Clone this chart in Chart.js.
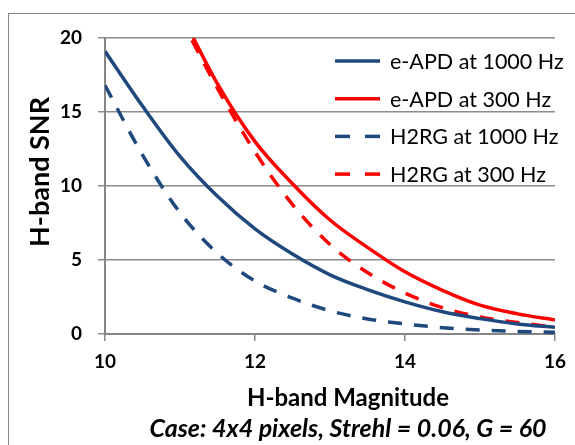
<!DOCTYPE html>
<html>
<head>
<meta charset="utf-8">
<script src="https://cdn.jsdelivr.net/npm/chart.js@4"></script>
<style>
    html, body { margin: 0; padding: 0; background: #fff; overflow: hidden; }
    #wrap { position: relative; width: 575px; height: 445px; }
    #frame { position: absolute; left: 8px; top: 13px; width: 700px; height: 600px; border: 1px solid #868686; }
    canvas { position: absolute; left: 0; top: 0; }
</style>
</head>
<body>
<div id="wrap">
    <div id="frame"></div>
    <canvas id="chart" width="575" height="445"></canvas>
</div>
<script>
// H-band magnitude (x) and SNR values
const magnitudes = [10, 10.5, 11, 11.5, 12, 12.5, 13, 13.5, 14, 14.5, 15, 15.5, 16];
const eApd1000 = [19.1, 15.4, 12.0, 9.3, 7.1, 5.4, 4.0, 3.0, 2.17, 1.5, 1.04, 0.68, 0.45];
const eApd300 = [null, null, 21.8, 16.9, 13.0, 10.15, 7.7, 5.85, 4.2, 2.95, 1.95, 1.36, 0.95];
const h2rg1000 = [16.8, 12.1, 8.2, 5.45, 3.58, 2.42, 1.57, 1.02, 0.68, 0.43, 0.27, 0.17, 0.11];
const h2rg300 = [null, null, 21.4, 16.6, 12.3, 8.75, 6.05, 4.15, 2.77, 1.78, 1.15, 0.78, 0.45];

const seriesLabels = ['e-APD at 1000 Hz', 'e-APD at 300 Hz', 'H2RG at 1000 Hz', 'H2RG at 300 Hz'];
const xTicks = [10, 12, 14, 16];
const yTicks = [0, 5, 10, 15, 20];

const xTitle = 'H-band Magnitude';
const yTitle = 'H-band SNR';
const caption = 'Case: 4x4 pixels, Strehl = 0.06, G = 60';

const BLUE = '#1F497D';
const RED = '#FF0000';
const FONT = 'Lato, "Open Sans", sans-serif';

function toPoints(values) {
    return magnitudes.map((m, i) => ({ x: m, y: values[i] }));
}

function makeSeries(label, values, color, dashed) {
    return {
        label: label,
        data: toPoints(values),
        borderColor: color,
        backgroundColor: color,
        borderWidth: 3.5,
        borderDash: dashed ? [14, 12] : [],
        pointRadius: 0,
        cubicInterpolationMode: 'monotone',
        clip: 0,
        fill: false,
    };
}

// legend drawn inside the plot, top right
const plotLegend = {
    id: 'plotLegend',
    afterDatasetsDraw(chart) {
        const { ctx, chartArea } = chart;
        ctx.save();
        chart.data.datasets.forEach((ds, i) => {
            const y = chartArea.top + 23 + i * 37.7;
            const x0 = chartArea.left + 230;
            ctx.strokeStyle = ds.borderColor;
            ctx.lineWidth = 3.5;
            ctx.setLineDash(ds.borderDash.length ? [15, 15] : []);
            ctx.beginPath();
            ctx.moveTo(x0, y);
            ctx.lineTo(x0 + 45, y);
            ctx.stroke();
            ctx.setLineDash([]);
            ctx.fillStyle = '#000';
            ctx.font = '21.5px ' + FONT;
            ctx.textAlign = 'left';
            ctx.textBaseline = 'middle';
            ctx.fillText(ds.label, x0 + 55, y + 1);
        });
        ctx.restore();
    }
};

// axis titles and case caption
const chartTexts = {
    id: 'chartTexts',
    afterDraw(chart) {
        const { ctx } = chart;
        ctx.save();
        ctx.fillStyle = '#000';
        ctx.textAlign = 'center';
        ctx.textBaseline = 'middle';
        ctx.font = 'bold 24px ' + FONT;
        ctx.fillText(xTitle, 348, 398);
        ctx.font = 'italic bold 25px ' + FONT;
        ctx.fillText(caption, 348, 429);
        ctx.translate(40, 172);
        ctx.rotate(-Math.PI / 2);
        ctx.font = 'bold 27px ' + FONT;
        ctx.fillText(yTitle, 0, 0);
        ctx.restore();
    }
};

const ctx = document.getElementById('chart').getContext('2d');
new Chart(ctx, {
    type: 'line',
    data: {
        datasets: [
            makeSeries(seriesLabels[0], eApd1000, BLUE, false),
            makeSeries(seriesLabels[1], eApd300, RED, false),
            makeSeries(seriesLabels[2], h2rg1000, BLUE, true),
            makeSeries(seriesLabels[3], h2rg300, RED, true),
        ]
    },
    options: {
        responsive: false,
        animation: false,
        layout: { padding: { top: 38, right: 18, left: 0, bottom: 0 } },
        plugins: {
            legend: { display: false },
            tooltip: { enabled: false },
        },
        scales: {
            x: {
                type: 'linear',
                min: 10,
                max: 16,
                afterBuildTicks: (scale) => { scale.ticks = xTicks.map(v => ({ value: v })); },
                afterFit: (scale) => { scale.height = 111; },
                border: { color: '#868686', width: 2 },
                grid: { drawOnChartArea: false, drawTicks: true, tickLength: 7, color: '#868686', lineWidth: 1.5 },
                ticks: { color: '#000', padding: 9, font: { family: FONT, size: 19, weight: 'bold' } },
            },
            y: {
                min: 0,
                max: 20,
                afterBuildTicks: (scale) => { scale.ticks = yTicks.map(v => ({ value: v })); },
                afterFit: (scale) => { scale.width = 105; },
                border: { color: '#868686', width: 2 },
                grid: { color: '#8c8c8c', lineWidth: 1.5, tickLength: 7 },
                ticks: { color: '#000', padding: 16, font: { family: FONT, size: 19, weight: 'bold' } },
            }
        }
    },
    plugins: [plotLegend, chartTexts]
});
</script>
</body>
</html>
